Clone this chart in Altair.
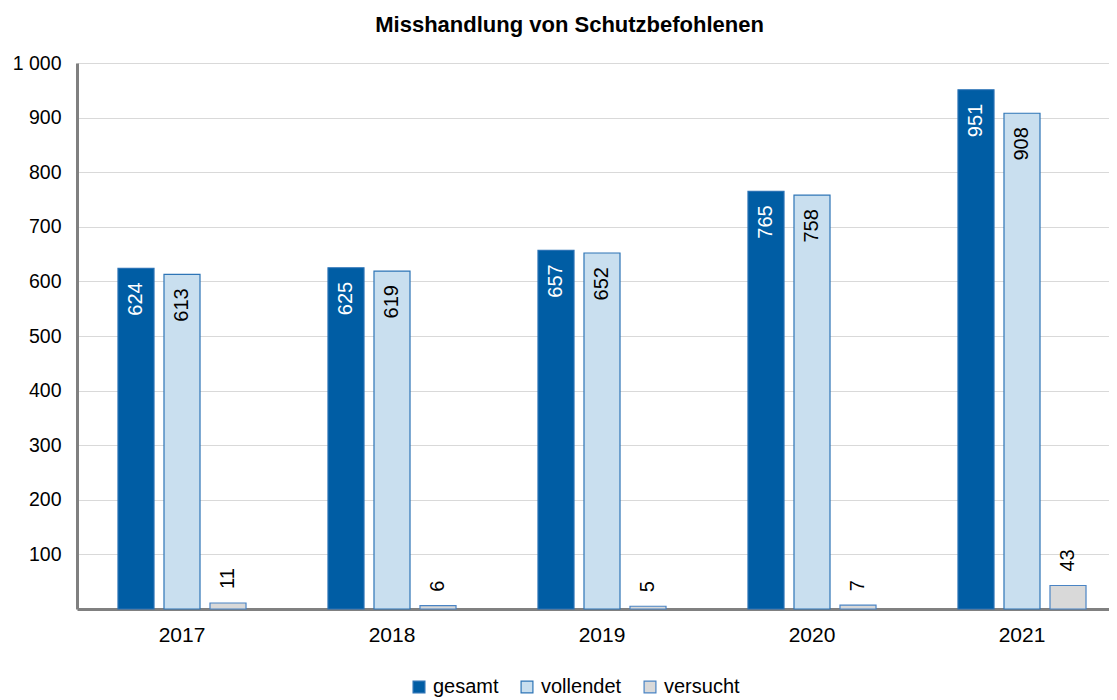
import altair as alt
import pandas as pd

years = ["2017", "2018", "2019", "2020", "2021"]
series = ["gesamt", "vollendet", "versucht"]
gesamt = [624, 625, 657, 765, 951]
vollendet = [613, 619, 652, 758, 908]
versucht = [11, 6, 5, 7, 43]

rows = []
for i, y in enumerate(years):
    rows.append({"year": y, "series": "gesamt", "value": gesamt[i]})
    rows.append({"year": y, "series": "vollendet", "value": vollendet[i]})
    rows.append({"year": y, "series": "versucht", "value": versucht[i]})
df = pd.DataFrame(rows)

FONT = "Liberation Sans"
fill_scale = alt.Scale(domain=series, range=["#005DA4", "#C9DFEF", "#D9D9D9"])
stroke_scale = alt.Scale(domain=series, range=["#2A72B5", "#2E75B6", "#4A84C4"])

x = alt.X("year:N", scale=alt.Scale(paddingInner=0, paddingOuter=0, range=[0, 1050]),
          axis=alt.Axis(title=None, ticks=False, labelAngle=0, labelFontSize=21,
                        labelFont=FONT, labelColor="#000000", labelPadding=15,
                        domainColor="#808080", domainWidth=3))
xo = alt.XOffset("series:N", sort=series,
                 scale=alt.Scale(paddingInner=0.217, paddingOuter=0.891))

base = alt.Chart(df)

bars = base.mark_bar(strokeWidth=1.2).encode(
    x=x,
    xOffset=xo,
    y=alt.Y("value:Q", scale=alt.Scale(domain=[0, 1000]),
            axis=alt.Axis(title=None, values=[100, 200, 300, 400, 500, 600, 700, 800, 900, 1000],
                          labelExpr="replace(format(datum.value, ',d'), ',', ' ')",
                          ticks=False, labelFontSize=19.5, labelFont=FONT, labelColor="#000000",
                          labelPadding=16, gridColor="#D9D9D9", gridWidth=1,
                          domainColor="#808080", domainWidth=3)),
    fill=alt.Fill("series:N", scale=fill_scale, sort=series,
                  legend=alt.Legend(title=None, orient="none", direction="horizontal",
                                    legendX=332, legendY=614, labelFontSize=20, labelFont=FONT,
                                    labelColor="#000000", symbolType="square", symbolSize=140,
                                    symbolStrokeWidth=1.2, columnPadding=18, labelOffset=4)),
    stroke=alt.Stroke("series:N", scale=stroke_scale, sort=series, legend=None),
)

inside = base.transform_filter("datum.series != 'versucht'").mark_text(
    angle=270, align="right", baseline="middle", dx=-14, fontSize=20, font=FONT
).encode(
    x=x, xOffset=xo, y="value:Q", text="value:Q",
    color=alt.Color("series:N", scale=alt.Scale(domain=["gesamt", "vollendet"],
                                                range=["#FFFFFF", "#000000"]), legend=None),
)

outside = base.transform_filter("datum.series == 'versucht'").mark_text(
    angle=270, align="left", baseline="middle", dx=14, fontSize=20, font=FONT, color="#000000"
).encode(
    x=x, xOffset=xo, y="value:Q", text="value:Q",
)

chart = alt.layer(bars, inside, outside).resolve_scale(color="independent").properties(
    width=1032, height=546,
    autosize=alt.AutoSizeParams(type="none"),
    padding={"left": 69, "top": 55, "right": 0, "bottom": 88},
    title=alt.TitleParams("Misshandlung von Schutzbefohlenen", fontSize=22, font=FONT,
                          fontWeight="bold", anchor="middle", frame="bounds", offset=16,
                          color="#000000"),
).configure_view(stroke=None)

chart.save("out.html", embed_options={"renderer": "svg", "actions": False})
